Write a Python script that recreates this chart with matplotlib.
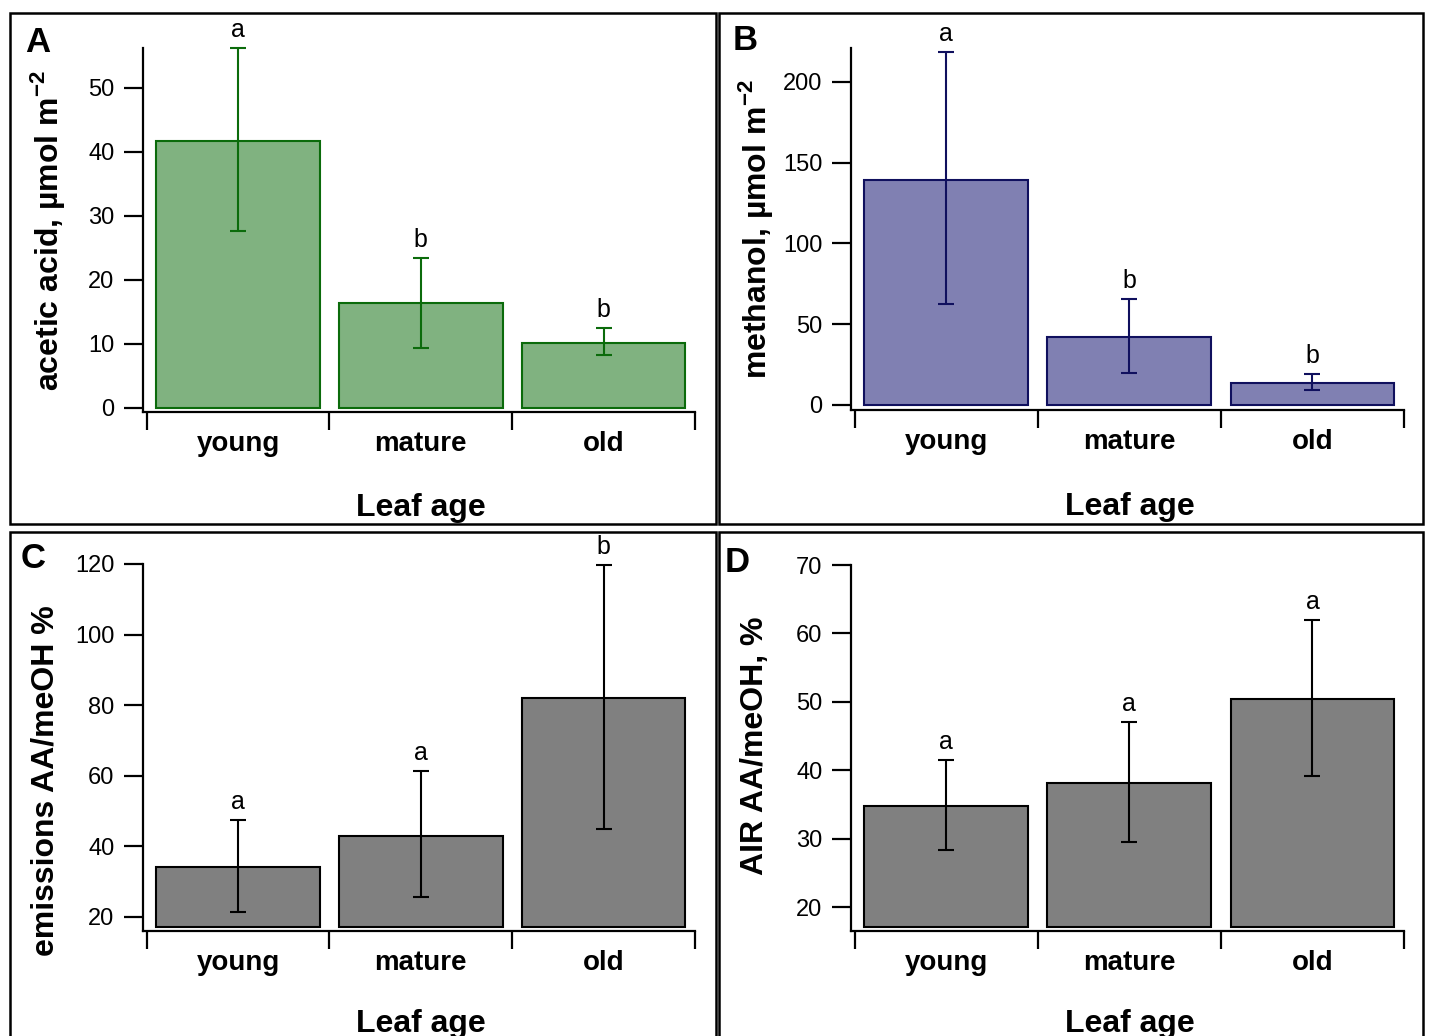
import numpy as np
import matplotlib
matplotlib.use("Agg")
import matplotlib.pyplot as plt
from matplotlib.patches import Rectangle

plt.rcParams["font.family"] = ["Liberation Sans", "DejaVu Sans"]
plt.rcParams["mathtext.fontset"] = "custom"
plt.rcParams["mathtext.rm"] = "Liberation Sans"
plt.rcParams["mathtext.bf"] = "Liberation Sans:bold"

categories = ["young", "mature", "old"]

# panel A: acetic acid
aa_mean = [41.7, 16.4, 10.2]
aa_hi = [56.2, 23.4, 12.5]
aa_lo = [27.7, 9.4, 8.3]
aa_letters = ["a", "b", "b"]

# panel B: methanol
meoh_mean = [139.3, 42.1, 13.6]
meoh_hi = [218.6, 65.6, 19.2]
meoh_lo = [62.5, 19.8, 9.3]
meoh_letters = ["a", "b", "b"]

# panel C: emissions ratio
em_mean = [34.0, 42.9, 81.9]
em_hi = [47.4, 61.3, 119.8]
em_lo = [21.4, 25.5, 44.8]
em_letters = ["a", "a", "b"]

# panel D: AIR ratio
air_mean = [34.8, 38.1, 50.4]
air_hi = [41.5, 47.0, 62.0]
air_lo = [28.4, 29.5, 39.2]
air_letters = ["a", "a", "a"]

W, H = 1429, 1036
fig = plt.figure(figsize=(W / 100, H / 100), dpi=100)


def px_axes(left, top, right, bottom):
    return fig.add_axes([left / W, 1 - bottom / H, (right - left) / W, (bottom - top) / H])


def panel(ax, mean, hi, lo, letters, fill, edge, ylim, yticks, base, ylabel,
          label_xy, xlabel_y, panel_letter, letter_xy):
    x = np.arange(len(categories))
    mean = np.array(mean)
    err = np.array([mean - np.array(lo), np.array(hi) - mean])
    ax.bar(x, mean - base, bottom=base, width=0.895, color=fill,
           edgecolor=edge, linewidth=1.5, zorder=2)
    ax.errorbar(x, mean, yerr=err, fmt="none", ecolor=edge, elinewidth=1.5,
                capsize=5.5, capthick=1.5, zorder=3, clip_on=False)
    for xi, h, t in zip(x, hi, letters):
        ax.annotate(t, (xi, h), xytext=(0, 8), textcoords="offset points",
                    ha="center", va="baseline", fontsize=18, annotation_clip=False)
    ax.set_xlim(-0.52, 2.5)
    ax.set_ylim(*ylim)
    ax.set_yticks(yticks)
    ax.set_xticks([-0.5, 0.5, 1.5, 2.5])
    ax.set_xticklabels([])
    ax.set_xticks(x, minor=True)
    ax.set_xticklabels(categories, minor=True, fontsize=20, fontweight="bold")
    ax.tick_params(axis="x", which="major", direction="out", length=13, width=1.6)
    ax.tick_params(axis="x", which="minor", length=0, pad=14)
    ax.tick_params(axis="y", direction="out", length=14, width=1.6,
                   labelsize=17, pad=6.5)
    for s in ["top", "right"]:
        ax.spines[s].set_visible(False)
    for s in ["left", "bottom"]:
        ax.spines[s].set_linewidth(1.6)
    ax.set_ylabel(ylabel, fontsize=23, fontweight="bold")
    ax.yaxis.set_label_coords(*label_xy)
    ax.set_xlabel("Leaf age", fontsize=23, fontweight="bold")
    ax.xaxis.set_label_coords(0.504, xlabel_y)
    fig.text(letter_xy[0] / W, 1 - letter_xy[1] / H, panel_letter, fontsize=25,
             fontweight="bold", ha="center", va="center")


green_fill, green_edge = "#80b280", "#0b6b0b"
blue_fill, blue_edge = "#8080b2", "#10105e"
grey_fill, grey_edge = "#808080", "#000000"

axA = px_axes(143, 48, 695, 412)
panel(axA, aa_mean, aa_hi, aa_lo, aa_letters, green_fill, green_edge,
      (-0.625, 56.25), [0, 10, 20, 30, 40, 50], 0,
      r"acetic acid, µmol m$^{\mathbf{-2}}$", (-0.138, 0.5), -0.222, "A", (38, 42))

axB = px_axes(851, 48, 1404, 410)
panel(axB, meoh_mean, meoh_hi, meoh_lo, meoh_letters, blue_fill, blue_edge,
      (-3.1, 221), [0, 50, 100, 150, 200], 0,
      r"methanol, µmol m$^{\mathbf{-2}}$", (-0.138, 0.5), -0.226, "B", (745, 40))

axC = px_axes(143, 564, 695, 931)
panel(axC, em_mean, em_hi, em_lo, em_letters, grey_fill, grey_edge,
      (16.0, 120), [20, 40, 60, 80, 100, 120], 17.2,
      "emissions AA/meOH %", (-0.149, 0.41), -0.212, "C", (33, 558))

axD = px_axes(851, 565, 1404, 931)
panel(axD, air_mean, air_hi, air_lo, air_letters, grey_fill, grey_edge,
      (16.5, 70), [20, 30, 40, 50, 60, 70], 17.1,
      "AIR AA/meOH, %", (-0.146, 0.505), -0.212, "D", (737, 562))

# panel frames
for (l, t, r, b) in [(10, 13, 716, 524), (719, 13, 1423, 524),
                     (10, 532, 716, 1045), (719, 532, 1423, 1045)]:
    fig.add_artist(Rectangle((l / W, 1 - b / H), (r - l) / W, (b - t) / H,
                             transform=fig.transFigure, fill=False,
                             edgecolor="black", linewidth=1.8, clip_on=False))

fig.savefig("out.png", dpi=100)
